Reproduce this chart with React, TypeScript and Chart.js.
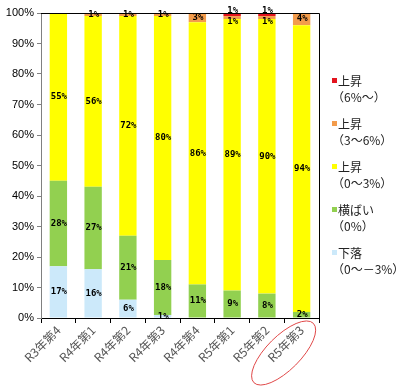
import React, { useEffect, useRef } from "react";
import { Chart, registerables } from "chart.js";
Chart.register(...registerables);

const categories = ["R3年第4", "R4年第1", "R4年第2", "R4年第3", "R4年第4", "R5年第1", "R5年第2", "R5年第3"];
const fall = [17, 16, 6, 1, 0, 0, 0, 0];
const flat = [28, 27, 21, 18, 11, 9, 8, 2];
const rise0to3 = [55, 56, 72, 80, 86, 89, 90, 94];
const rise3to6 = [0, 1, 1, 1, 3, 1, 1, 4];
const rise6up = [0, 0, 0, 0, 0, 1, 1, 0];
const yTicks = [0, 10, 20, 30, 40, 50, 60, 70, 80, 90, 100];

const legendLabels: [string, string][] = [
  ["上昇", "（6%〜）"],
  ["上昇", "（3〜6%）"],
  ["上昇", "（0〜3%）"],
  ["横ばい", "（0%）"],
  ["下落", "（0〜－3%）"],
];

const colors = {
  fall: "#CCE9FA",
  flat: "#92D050",
  r03: "#FFFF00",
  r36: "#F39C4C",
  r6: "#E3141E",
};

const labelPlugin = {
  id: "segLabels",
  afterDatasetsDraw(chart: any) {
    const ctx = chart.ctx;
    ctx.save();
    ctx.font = "bold 9px 'DejaVu Sans Mono'";
    ctx.fillStyle = "#000";
    ctx.textAlign = "center";
    ctx.textBaseline = "middle";
    const n = chart.data.labels.length;
    for (let i = 0; i < n; i++) {
      const items: { x: number; y: number; t: string }[] = [];
      chart.data.datasets.forEach((ds: any, di: number) => {
        const v = ds.data[i];
        if (!v) return;
        const el = chart.getDatasetMeta(di).data[i];
        items.push({ x: el.x, y: (el.y + el.base) / 2, t: v + "%" });
      });
      for (let k = 1; k < items.length; k++) {
        const prev = items[k - 1];
        const cur = items[k];
        if (prev.y - cur.y < 10) {
          const mid = (prev.y + cur.y) / 2;
          prev.y = mid + 5.5;
          cur.y = mid - 5.5;
        }
      }
      items.forEach((it) => ctx.fillText(it.t, it.x + 0.5, it.y));
    }
    ctx.restore();
  },
};

const framePlugin = {
  id: "frame",
  afterDraw(chart: any) {
    const ctx = chart.ctx;
    const a = chart.chartArea;
    ctx.save();
    ctx.strokeStyle = "#000";
    ctx.lineWidth = 1;
    ctx.beginPath();
    ctx.moveTo(a.left, Math.round(a.top) + 0.5);
    ctx.lineTo(Math.round(a.right) + 0.5, Math.round(a.top) + 0.5);
    ctx.lineTo(Math.round(a.right) + 0.5, a.bottom);
    ctx.stroke();

    const order = [4, 3, 2, 1, 0];
    let y = 81;
    const lx = a.right + 13;
    order.forEach((di, k) => {
      const ds = chart.data.datasets[di];
      ctx.fillStyle = ds.backgroundColor;
      ctx.fillRect(lx, y - 3, 5, 5);
      ctx.fillStyle = "#222";
      ctx.font = "12px 'Noto Sans CJK JP'";
      ctx.textAlign = "left";
      ctx.textBaseline = "middle";
      ctx.fillText(legendLabels[k][0], lx + 6, y);
      ctx.fillText(legendLabels[k][1], lx, y + 16);
      y += 43;
    });

    const xs = chart.scales.x;
    const cx = xs.getPixelForValue(chart.data.labels.length - 1) - 18;
    const cy = a.bottom + 35;
    ctx.strokeStyle = "#E04848";
    ctx.lineWidth = 1;
    ctx.beginPath();
    ctx.ellipse(cx, cy, 42, 17, -Math.PI / 4, 0, Math.PI * 2);
    ctx.stroke();
    ctx.restore();
  },
};

export default function App() {
  const ref = useRef<HTMLCanvasElement>(null);
  useEffect(() => {
    const mk = (label: string, data: number[], color: string) => ({
      label,
      data,
      backgroundColor: color,
      borderWidth: 0,
      barPercentage: 0.5,
      categoryPercentage: 1,
    });
    const chart = new Chart(ref.current!, {
      type: "bar",
      data: {
        labels: categories,
        datasets: [
          mk("下落", fall, colors.fall),
          mk("横ばい", flat, colors.flat),
          mk("上昇0-3", rise0to3, colors.r03),
          mk("上昇3-6", rise3to6, colors.r36),
          mk("上昇6", rise6up, colors.r6),
        ],
      },
      options: {
        animation: false,
        responsive: false,
        maintainAspectRatio: false,
        layout: { padding: { left: 0, top: 13, right: 83, bottom: 0 } },
        plugins: { legend: { display: false }, tooltip: { enabled: false } },
        scales: {
          x: {
            stacked: true,
            grid: { drawOnChartArea: false, color: "#000", tickLength: 5, offset: true },
            border: { color: "#000" },
            ticks: {
              maxRotation: 45,
              minRotation: 45,
              color: "#555",
              font: { family: "'Noto Sans CJK JP'", size: 12 },
              padding: 0,
            },
            afterFit: (s: any) => {
              s.height = 74;
            },
          },
          y: {
            stacked: true,
            min: 0,
            max: 100,
            afterBuildTicks: (s: any) => {
              s.ticks = yTicks.map((v) => ({ value: v }));
            },
            grid: { drawOnChartArea: false, color: "#808080", tickLength: 4 },
            border: { color: "#808080" },
            ticks: {
              color: "#000",
              font: { family: "'Liberation Sans'", size: 11 },
              padding: 3,
              callback: (v: any) => v + "%",
            },
            afterFit: (s: any) => {
              s.width = 41;
            },
          },
        },
      },
      plugins: [labelPlugin, framePlugin],
    });
    return () => chart.destroy();
  }, []);
  return (
    <div style={{ position: "fixed", left: 0, top: 0, width: 402, height: 392, background: "#fff" }}>
      <canvas ref={ref} width={402} height={392} style={{ width: 402, height: 392 }} />
    </div>
  );
}
